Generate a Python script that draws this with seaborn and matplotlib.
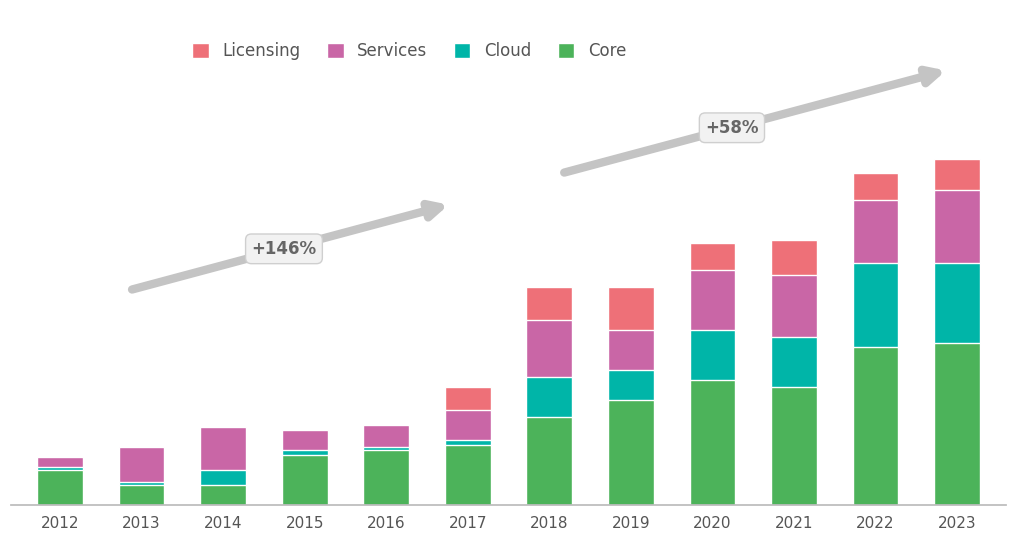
import numpy as np
import pandas as pd
import matplotlib
matplotlib.use("Agg")
import matplotlib.pyplot as plt
import seaborn as sns

# Categories along the x axis
years = ["2012", "2013", "2014", "2015", "2016", "2017",
         "2018", "2019", "2020", "2021", "2022", "2023"]

# Stacked segment values, bottom to top
core = [10.1, 5.8, 5.8, 14.5, 15.9, 17.4, 25.5, 30.4, 36.2, 34.2, 45.8, 47.0]
cloud = [0.9, 0.9, 4.3, 1.4, 0.9, 1.4, 11.6, 8.7, 14.5, 14.5, 24.3, 23.2]
services = [2.9, 10.1, 12.5, 5.8, 6.4, 8.7, 16.5, 11.6, 17.4, 18.0, 18.3, 21.2]
licensing = [0.0, 0.0, 0.0, 0.0, 0.0, 6.7, 9.6, 12.5, 7.8, 10.1, 7.8, 8.7]

series_names = ["Licensing", "Services", "Cloud", "Core"]
series_colors = {"Core": "#4CB35A", "Cloud": "#00B5A8",
                 "Services": "#C966A6", "Licensing": "#EE7078"}

sns.set_theme(style="white")
plt.rcParams["font.family"] = ["DejaVu Sans"]

fig = plt.figure(figsize=(10.13, 5.59), dpi=100)
ax = fig.add_axes([0.011, 0.097, 0.982, 0.796])

layers = {"Core": core, "Cloud": cloud, "Services": services, "Licensing": licensing}
stack_order = ["Core", "Cloud", "Services", "Licensing"]
cum = np.zeros(len(years))
cum_layers = {}
for name in stack_order:
    cum = cum + np.array(layers[name])
    cum_layers[name] = cum.copy()

# Draw cumulative totals from the top layer down so lower layers sit in front
for name in reversed(stack_order):
    df = pd.DataFrame({"year": years, "value": cum_layers[name]})
    sns.barplot(data=df, x="year", y="value", color=series_colors[name],
                width=0.56, ax=ax, label=name, saturation=1)

totals = cum_layers["Licensing"]
ax.set_ylim(0, 129)
ax.set_xlim(-0.6, 11.6)
ax.set_ylabel("")
ax.set_xlabel("")
ax.set_yticks([])
ax.tick_params(axis="x", labelsize=11, colors="#555555", length=0, pad=8)
sns.despine(ax=ax, left=True, top=True, right=True)
ax.spines["bottom"].set_color("#bbbbbb")

# Growth arrows over the two halves of the period
def growth_arrow(i0, i1, x0, x1, y0, y1, frac=0.5):
    pct = (totals[i1] / totals[i0] - 1) * 100
    ax.annotate("", xy=(x1, y1), xytext=(x0, y0), annotation_clip=False,
                arrowprops=dict(arrowstyle="-|>", color="#c4c4c4", lw=6,
                                mutation_scale=25))
    ax.text(x0 + frac * (x1 - x0), y0 + frac * (y1 - y0), f"+{pct:.0f}%",
            ha="center", va="center", fontsize=12, fontweight="bold",
            color="#666666",
            bbox=dict(boxstyle="round,pad=0.35", fc="#f2f2f2", ec="#cfcfcf"))

growth_arrow(0, 5, 0.85, 4.8, totals[5] + 28, totals[5] + 53, frac=0.48)
growth_arrow(6, 11, 6.15, 10.9, totals[11] - 4, totals[11] + 26, frac=0.44)

handles, labels = ax.get_legend_handles_labels()
order = [labels.index(n) for n in series_names]
ax.legend([handles[i] for i in order], series_names, loc="center",
          bbox_to_anchor=(0.40, 1.02), ncol=4, frameon=False, fontsize=12,
          handlelength=1.0, handleheight=1.0, columnspacing=1.6,
          labelcolor="#555555")

fig.savefig("out.png", dpi=100)
